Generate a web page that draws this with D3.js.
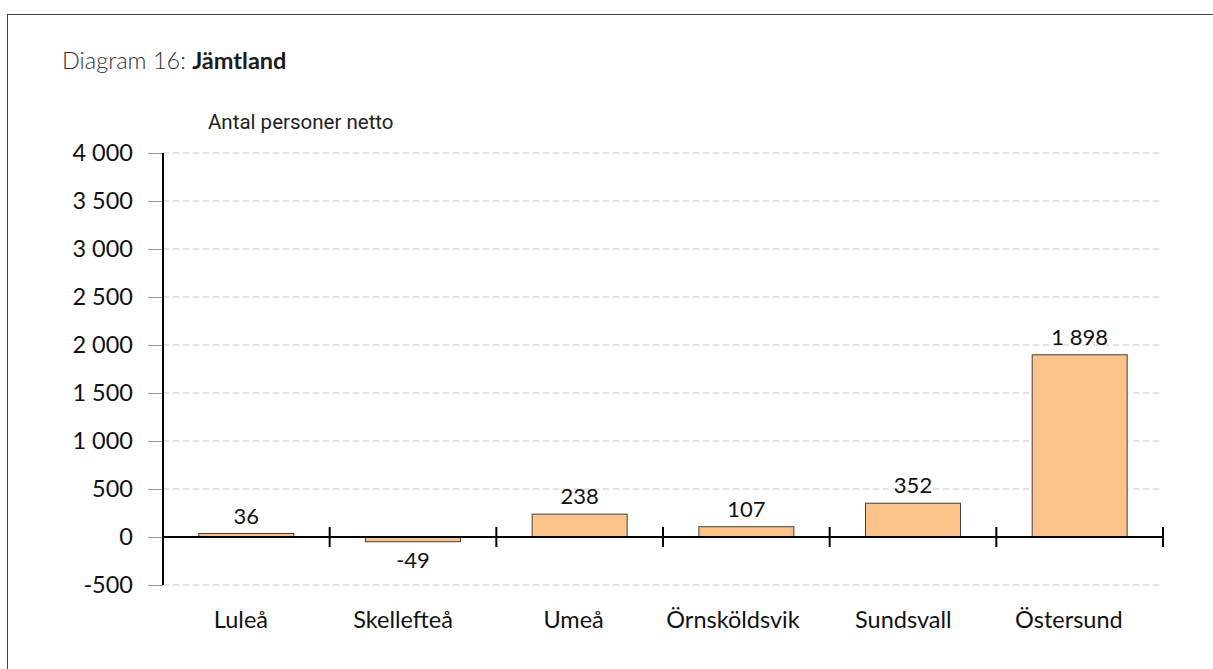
<!DOCTYPE html>
<html>
<head>
<meta charset="utf-8">
<script src="https://cdn.jsdelivr.net/npm/d3@7"></script>
<style>
  html, body { margin: 0; padding: 0; background: #fff; }
  svg { display: block; }
</style>
</head>
<body>
<svg id="viz" width="1213" height="669"></svg>
<script>
// data
var categories = ["Luleå", "Skellefteå", "Umeå", "Örnsköldsvik", "Sundsvall", "Östersund"];
var values = [36, -49, 238, 107, 352, 1898];
var yTicks = [-500, 0, 500, 1000, 1500, 2000, 2500, 3000, 3500, 4000];

var svg = d3.select("#viz");
var font = "Lato, 'Open Sans', sans-serif";
var fmt = function (d) { return d3.format(",")(d).replace(/,/g, " ").replace("−", "-"); };

// outer frame (runs off the right and bottom edge)
svg.append("rect")
    .attr("x", 7.5).attr("y", 14.5)
    .attr("width", 1300).attr("height", 800)
    .attr("fill", "none")
    .attr("stroke", "#444")
    .attr("stroke-width", 1);

// title
var title = svg.append("text")
    .attr("x", 62).attr("y", 69)
    .style("font-family", font)
    .style("font-size", "23.5px")
    .style("fill", "#333");
title.append("tspan").text("Diagram 16: ").style("font-weight", 300);
title.append("tspan").text("Jämtland").style("font-weight", "bold").style("fill", "#1a1a1a");

svg.append("text")
    .attr("x", 208).attr("y", 129)
    .text("Antal personer netto")
    .style("font-family", "Roboto, sans-serif")
    .style("font-size", "20.5px")
    .style("fill", "#222");

var left = 163, right = 1163;
var y = d3.scaleLinear().domain([-500, 4000]).range([585, 153]);
var x = d3.scaleBand().domain(categories).range([left, right]).paddingInner(0.43).paddingOuter(0.215);
var band = d3.scaleBand().domain(categories).range([left, right]);

// gridlines
svg.append("g").selectAll("line")
    .data(yTicks.filter(function (d) { return d !== 0; }))
    .enter().append("line")
    .attr("x1", left).attr("x2", right)
    .attr("y1", function (d) { return y(d); })
    .attr("y2", function (d) { return y(d); })
    .attr("stroke", "#c8c8c8")
    .attr("stroke-width", 1)
    .attr("stroke-dasharray", "6,4");

// y axis with ticks to the left
var yAxis = svg.append("g")
    .attr("transform", "translate(" + left + ",0)")
    .call(d3.axisLeft(y).tickValues(yTicks).tickSize(15).tickPadding(15).tickFormat(fmt));
yAxis.select(".domain").remove();
yAxis.selectAll(".tick line").attr("stroke", "#999").attr("stroke-width", 1);
yAxis.selectAll(".tick text")
    .style("font-family", font)
    .style("font-size", "23.5px")
    .style("fill", "#111");

// bars
svg.append("g").selectAll("rect")
    .data(values)
    .enter().append("rect")
    .attr("x", function (d, i) { return x(categories[i]); })
    .attr("width", x.bandwidth())
    .attr("y", function (d) { return y(Math.max(0, d)); })
    .attr("height", function (d) { return Math.abs(y(d) - y(0)); })
    .attr("fill", "#fcc38a")
    .attr("stroke", "#404040")
    .attr("stroke-width", 1);

// vertical axis line
svg.append("line")
    .attr("x1", left).attr("x2", left)
    .attr("y1", y(4000)).attr("y2", y(-500))
    .attr("stroke", "#000").attr("stroke-width", 2);

// x axis at zero with boundary ticks
svg.append("line")
    .attr("x1", left).attr("x2", right)
    .attr("y1", y(0)).attr("y2", y(0))
    .attr("stroke", "#000").attr("stroke-width", 2);
svg.append("g").selectAll("line")
    .data(categories)
    .enter().append("line")
    .attr("x1", function (d) { return band(d) + band.bandwidth(); })
    .attr("x2", function (d) { return band(d) + band.bandwidth(); })
    .attr("y1", y(0) - 10).attr("y2", y(0) + 10)
    .attr("stroke", "#000").attr("stroke-width", 2);

// value labels
svg.append("g").selectAll("text")
    .data(values)
    .enter().append("text")
    .attr("x", function (d, i) { return x(categories[i]) + x.bandwidth() / 2; })
    .attr("y", function (d) { return d >= 0 ? y(d) - 10 : y(d) + 26; })
    .attr("text-anchor", "middle")
    .text(fmt)
    .style("font-family", font)
    .style("font-size", "22px")
    .style("fill", "#111");

// category labels (the original sits a little left of the band centre)
svg.append("g").selectAll("text")
    .data(categories)
    .enter().append("text")
    .attr("x", function (d) { return band(d) + band.bandwidth() / 2; })
    .attr("y", 628)
    .attr("text-anchor", "middle")
    .text(function (d) { return d; })
    .style("font-family", font)
    .style("font-size", "23.5px")
    .style("fill", "#111")
    .attr("dx", function () { return -0.1 * this.getComputedTextLength(); });
</script>
</body>
</html>
